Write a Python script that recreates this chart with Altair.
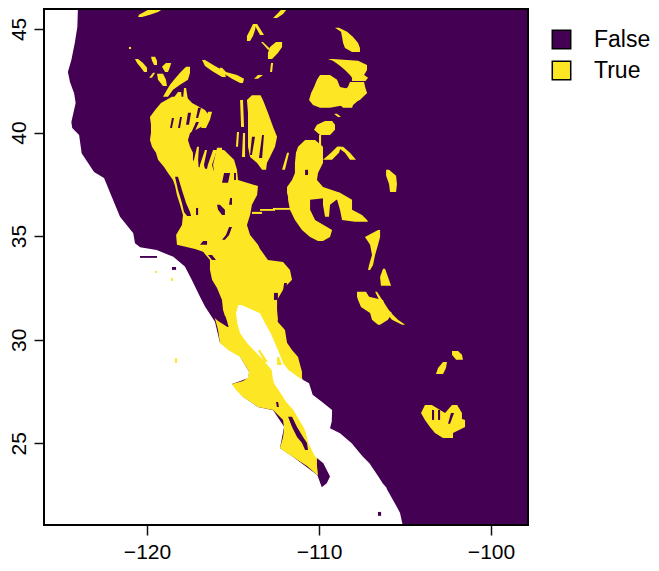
import altair as alt
import pandas as pd

X_DOMAIN = [-125.99, -97.85]
Y_DOMAIN = [21.06, 45.96]
X_TICKS = [-120, -110, -100]
Y_TICKS = [25, 30, 35, 40, 45]
CLASSES = ["False", "True"]
COLORS = ["#440154", "#FDE725"]

# each row: latitude, western longitude, eastern longitude
land = [(46.2,-124.01,-97.8),(45.1,-124.05,-97.8),(44.32,-124.2,-97.8),(43.5,-124.4,-97.8),(42.92,-124.6,-97.8),
 (42.44,-124.48,-97.8),(41.9,-124.24,-97.8),(41.43,-124.15,-97.8),(40.51,-124.4,-97.8),(40.22,-124.35,-97.8),
 (39.88,-123.95,-97.8),(39.0,-123.8,-97.8),(38.1,-123.08,-97.8),(37.8,-122.5,-97.8),(35.93,-121.57,-97.8),
 (35.14,-120.8,-97.8),(34.66,-120.7,-97.8),(34.46,-120.4,-97.8),(34.33,-119.44,-97.8),(34.0,-118.47,-97.8),
 (33.53,-117.8,-97.8),(32.89,-117.4,-97.8),(32.08,-116.92,-97.8),(31.6,-116.63,-97.8),(30.87,-116.05,-97.8),
 (29.85,-115.76,-97.8),(29.2,-114.6,-97.8),(28.45,-114.07,-97.8),(28.15,-114.1,-97.8),(27.87,-115.06,-97.8),
 (27.24,-114.4,-97.8),(26.76,-113.55,-97.8),(26.6,-112.67,-97.8),(25.8,-112.03,-97.8),(24.78,-112.27,-97.8),
 (24.34,-111.5,-97.8),(23.47,-110.1,-97.8),(22.88,-109.84,-97.8),(22.86,-106.1,-97.8),(21.93,-105.47,-97.8),
 (21.64,-105.29,-97.8),(21.0,-105.12,-97.8)]

main_body = [(41.72,-118.55,-117.73),(41.43,-119.19,-117.38),(41.09,-119.53,-116.63),(40.75,-119.83,-116.34),
 (40.37,-119.77,-116.63),(39.98,-119.77,-117.5),(39.64,-119.83,-117.62),(39.31,-119.71,-117.5),(39.02,-119.48,-117.33),
 (38.68,-119.36,-117.33),(38.34,-119.01,-117.03),(38.05,-118.78,-115.47),(37.71,-118.49,-114.71),(37.42,-118.37,-113.55),
 (36.99,-118.26,-113.6),(36.51,-118.08,-113.9),(36.02,-117.91,-114.01),(35.54,-117.97,-114.19),(35.06,-118.31,-114.01),
 (34.58,-118.26,-113.55),(34.38,-117.21,-113.43),(34.24,-116.74,-113.31),(33.85,-116.34,-112.97),(33.75,-116.34,-112.09),
 (33.37,-116.34,-111.69),(32.89,-116.22,-111.57),(32.5,-115.93,-112.03),(31.92,-115.64,-112.44),(31.44,-115.58,-112.44),
 (30.96,-115.4,-112.39)]
baja = [(31.15,-116.1,-112.44),(30.86,-115.99,-112.39),(30.47,-115.87,-111.98),(29.85,-115.76,-111.86),(29.51,-115.29,-111.57),
 (29.17,-114.59,-111.22),(28.78,-114.3,-111.1),(28.45,-114.07,-110.99),(28.16,-114.13,-110.99),(28.01,-114.42,-110.93),
 (27.87,-115.06,-110.64),(27.58,-114.83,-111.69),(27.24,-114.42,-111.57),(26.76,-113.55,-111.1),(26.61,-112.67,-110.93),
 (26.13,-112.09,-110.52),(25.74,-112.03,-110.41),(25.31,-112.09,-110.17),(24.78,-112.27,-110.17),(24.59,-111.98,-110.12),
 (24.34,-111.51,-110.12),(23.91,-110.7,-110.12),(23.48,-110.12,-110.06)]
top_strip = [(45.97,-119.83,-119.07),(45.82,-120.17,-119.36),(45.68,-120.47,-119.83),(45.58,-120.52,-120.29)]
dot_a = [(44.13,-121.05,-120.93),(44.03,-121.05,-120.93)]
blob_a = [(43.55,-120.7,-120.52),(43.36,-120.58,-120.23),(43.12,-120.35,-120.0),(42.92,-120.17,-120.0)]
blob_b = [(43.65,-119.77,-119.53),(43.46,-119.71,-119.42),(43.26,-119.59,-119.42)]
blob_c = [(43.36,-118.9,-118.6),(43.17,-119.13,-118.66),(42.92,-118.95,-118.78)]
blob_d = [(42.88,-119.65,-119.53),(42.64,-119.88,-119.71)]
blob_e = [(42.83,-119.42,-119.07),(42.54,-119.36,-118.9),(42.25,-119.07,-118.84)]
blob_f = [(43.17,-117.73,-117.5),(42.88,-118.08,-117.5),(42.54,-118.43,-117.62),(42.3,-118.66,-118.08),(42.06,-118.84,-118.49),(41.72,-119.07,-118.78)]
blob_g = [(42.15,-117.85,-117.73),(41.57,-117.91,-117.62)]
blob_h = [(41.96,-118.2,-118.02),(41.57,-118.55,-117.97)]
prong_a = [(41.0,-116.45,-116.22),(40.61,-116.63,-116.34),(40.22,-116.86,-116.57)]
long_a = [(43.5,-116.8,-116.63),(43.21,-116.63,-116.05),(42.97,-116.22,-115.52),(42.68,-115.64,-115.41)]
long_b = [(43.12,-115.76,-115.64),(42.92,-115.76,-115.41),(42.78,-115.41,-114.77),(42.59,-115.06,-114.36),(42.39,-114.59,-114.42)]
idaho_top = [(45.97,-112.15,-111.86),(45.72,-112.44,-112.09),(45.53,-112.67,-112.44)]
strand_a = [(45.24,-113.84,-113.66),(44.95,-114.01,-113.72),(44.66,-114.19,-113.84),(44.42,-114.19,-114.01)]
strand_b = [(45.24,-113.78,-113.6),(44.71,-113.43,-113.2)]
blob_i = [(44.37,-112.5,-112.15),(44.13,-112.85,-112.15),(43.84,-112.97,-112.39),(43.55,-112.97,-112.73)]
blob_j = [(44.37,-113.37,-113.26),(43.99,-112.97,-112.79)]
blob_k = [(43.36,-112.79,-112.67),(42.92,-112.85,-112.73)]
blob_l = [(42.78,-113.55,-113.26),(42.59,-113.78,-113.55)]
oval_a = [(45.05,-109.07,-108.84),(44.86,-108.72,-108.37),(44.61,-108.66,-108.02),(44.32,-108.6,-107.73),(44.08,-108.49,-107.62),(43.89,-108.08,-107.62)]
blob_m = [(43.55,-109.48,-109.19),(43.46,-109.19,-107.73),(43.26,-108.84,-107.21),(43.02,-108.49,-107.21),(42.78,-108.2,-107.38),(42.64,-108.08,-107.15),(42.49,-108.08,-107.3)]
big_left = [(42.78,-109.94,-109.36),(42.54,-110.12,-108.95),(42.2,-110.29,-108.78),(41.91,-110.46,-107.21),(41.57,-110.58,-107.62),(41.33,-110.35,-108.5),(41.19,-109.94,-109.36)]
big_right = [(42.44,-108.2,-107.38),(42.2,-108.32,-107.32),(41.91,-108.78,-107.21),(41.33,-108.78,-108.02),(41.19,-108.6,-108.08)]
blob_n = [(40.56,-109.65,-109.24),(40.37,-110.12,-109.07),(40.13,-110.29,-109.07),(39.88,-109.94,-109.36)]
thin_a = [(40.9,-109.13,-108.95),(40.75,-108.9,-108.72)]
stem = [(39.88,-110.0,-109.88),(39.31,-110.0,-109.88)]
nevada = [(41.8,-113.9,-113.4),(41.57,-114.19,-113.26),(40.95,-114.13,-112.97),(40.27,-114.13,-112.67),(39.79,-114.13,-112.44),(39.31,-114.13,-112.56),(38.82,-114.01,-112.85),(38.53,-113.6,-113.03),(38.2,-113.31,-113.08)]
side_a = [(41.57,-114.59,-114.42),(40.27,-114.53,-114.36)]
side_b = [(40.03,-114.77,-114.65),(39.31,-114.83,-114.71)]
side_c = [(39.98,-114.42,-114.3),(38.82,-114.48,-114.3)]
diag_a = [(39.02,-111.86,-111.74),(38.2,-112.15,-111.98)]
colorado = [(39.64,-110.81,-110.23),(39.31,-111.22,-109.77),(39.02,-111.34,-109.77),(38.53,-111.4,-109.77),(38.05,-111.4,-110.06),(37.71,-111.57,-110.12),(37.37,-111.86,-109.77),(37.09,-111.86,-108.78),(36.89,-111.8,-109.07),(36.75,-111.8,-110.52),(36.27,-111.69,-110.52),(35.78,-111.4,-110.23),(35.3,-110.99,-109.24),(34.96,-110.52,-109.36),(34.77,-110.06,-109.77)]
col_mid = [(36.89,-109.77,-108.78),(36.51,-109.77,-109.36),(35.93,-109.65,-109.42)]
col_right = [(37.09,-109.36,-108.78),(36.75,-108.95,-108.08),(36.27,-108.78,-108.08),(36.02,-108.72,-107.5),(35.78,-108.66,-107.21),(35.69,-107.91,-107.15)]
arm_a = [(39.31,-108.95,-108.72),(39.02,-109.3,-108.84),(38.68,-109.77,-109.24)]
arm_b = [(39.31,-108.95,-108.6),(39.02,-108.49,-108.2),(38.68,-108.2,-107.85)]
wire_a = [(36.17,-113.9,-113.31),(36.07,-113.9,-113.31)]
wire_b = [(36.31,-113.43,-112.56),(36.22,-113.43,-112.56)]
wire_c = [(36.36,-112.68,-111.69),(36.27,-112.68,-111.69)]
oval_b = [(38.2,-106.1,-105.93),(37.91,-106.1,-105.52),(37.52,-105.93,-105.47),(37.13,-105.87,-105.52)]
strip_a = [(35.3,-106.57,-106.45),(34.96,-107.33,-106.45),(34.58,-107.03,-106.57),(34.09,-106.92,-106.74),(33.61,-107.09,-106.86),(33.37,-107.15,-107.03)]
blob_o = [(33.42,-106.28,-106.16),(33.03,-106.45,-105.99),(32.6,-106.4,-105.81)]
blob_p = [(32.31,-107.79,-107.27),(32.07,-107.79,-107.09),(31.92,-107.73,-106.28),(31.58,-107.56,-106.16),(31.29,-107.03,-105.76),(30.96,-106.92,-105.99),(30.72,-106.57,-106.45)]
tail_a = [(32.31,-106.74,-106.63),(31.34,-106.16,-105.87),(30.96,-105.76,-105.41),(30.72,-105.17,-104.99)]
mex_a = [(29.46,-102.27,-101.92),(29.27,-102.27,-101.69),(29.03,-102.03,-101.63)]
mex_b = [(28.93,-102.79,-102.56),(28.64,-103.08,-102.62),(28.35,-103.2,-102.79)]
mex_c = [(26.85,-103.84,-103.44),(26.47,-104.07,-102.67),(26.13,-103.84,-101.51),(25.79,-103.55,-101.51),(25.5,-103.26,-102.21),(25.26,-102.79,-102.21)]
mex_d = [(26.85,-102.27,-101.97),(26.47,-102.67,-101.69),(26.13,-102.67,-101.69)]
finger_a = [(39.31,-117.09,-116.98),(38.68,-117.27,-117.03),(38.1,-117.27,-116.98)]
finger_b = [(39.16,-116.63,-116.51),(38.44,-116.92,-116.69),(38.05,-116.98,-116.57)]
finger_c = [(39.16,-116.16,-115.93),(38.44,-116.46,-116.22),(38.05,-116.57,-116.1)]
finger_d = [(39.26,-115.93,-115.64),(38.44,-116.16,-115.64),(38.05,-116.1,-115.52)]
block_a = [(39.16,-115.76,-115.52),(38.68,-115.76,-114.94),(38.2,-115.64,-114.77),(37.71,-115.47,-114.71)]
isle_a = [(33.32,-119.53,-119.42),(33.22,-119.53,-119.42)]
isle_b = [(32.98,-118.6,-118.49),(32.84,-118.6,-118.49)]
isle_c = [(29.12,-118.37,-118.26),(28.88,-118.37,-118.26)]

gulf = [(31.68,-114.69,-114.5),(31.28,-114.83,-113.43),(30.8,-114.75,-113.14),(30.31,-114.59,-112.81),(29.83,-114.17,-112.56),
 (29.35,-113.62,-112.31),(28.87,-113.08,-112.08),(28.54,-112.75,-111.78),(28.14,-112.69,-111.1),(27.9,-112.62,-110.58),
 (27.34,-112.17,-110.37),(27.01,-111.92,-109.84),(26.61,-111.49,-109.24),(26.05,-111.1,-109.26),(25.73,-110.87,-109.36),
 (25.49,-110.76,-108.78),(25.0,-110.62,-108.1),(24.52,-110.33,-107.62),(24.36,-110.23,-107.46),(24.04,-109.75,-107.07),
 (23.4,-109.36,-106.55),(23.08,-109.55,-106.3),(22.88,-109.84,-106.1),(22.82,-109.84,-106.05)]

gulf_isle_a = [(29.51,-113.55,-113.43),(28.93,-113.2,-112.97)]
gulf_isle_b = [(29.17,-112.44,-112.33),(28.78,-112.44,-112.15)]

wedge_a = [(31.15,-116.2,-115.45),(30.91,-115.87,-115.35),(30.62,-115.32,-115.26)]
wedge_b = [(26.28,-111.8,-111.57),(25.79,-111.57,-111.28),(25.31,-111.28,-110.93),(25.02,-110.99,-110.7),(24.68,-110.81,-110.64)]
fleck_a = [(27.0,-112.5,-112.38),(26.76,-112.45,-112.33)]
stripe = [(37.86,-118.37,-118.2),(37.23,-118.2,-117.97),(36.6,-117.97,-117.73),(36.17,-117.85,-117.5),(35.97,-117.67,-117.44)]
hole_b = [(36.36,-117.15,-117.03),(36.02,-117.15,-117.03)]
hole_c = [(36.51,-115.93,-115.76),(36.27,-115.87,-115.47),(36.02,-115.64,-115.47)]
hole_d = [(36.84,-115.17,-115.06),(36.51,-115.23,-115.06)]
hole_e = [(35.44,-115.23,-115.06),(35.06,-115.41,-115.23),(34.82,-115.64,-115.47)]
hole_f = [(34.77,-116.74,-116.51),(34.58,-116.92,-116.51)]
hole_g = [(34.09,-116.46,-116.22),(33.85,-116.22,-115.99)]
hole_h = [(38.05,-115.52,-115.17),(37.57,-115.64,-115.29)]
hole_i = [(38.05,-114.94,-114.83),(37.71,-114.94,-114.83)]
hole_j = [(32.74,-112.03,-111.86),(32.36,-112.09,-111.92)]
hole_k = [(32.26,-112.62,-112.39),(31.92,-112.62,-112.39)]
slit_a = [(40.95,-117.62,-117.44),(40.37,-117.73,-117.56)]
slit_b = [(40.75,-118.08,-117.97),(40.22,-118.2,-118.08)]
slit_c = [(40.51,-117.15,-116.98),(39.98,-117.44,-117.27)]
slit_d = [(40.7,-118.55,-118.43),(40.22,-118.66,-118.55)]
slit_e = [(41.19,-117.03,-116.86),(40.7,-117.15,-117.03)]
slit_f = [(39.88,-113.31,-113.2),(38.77,-113.49,-113.31)]
slit_g = [(39.79,-113.9,-113.72),(38.92,-114.01,-113.9)]
slit_h = [(38.2,-110.81,-110.64),(37.95,-110.81,-110.64)]
slit_i = [(26.61,-103.43,-103.31),(26.13,-103.43,-103.31)]
slit_j = [(26.61,-103.08,-102.96),(26.13,-103.08,-102.96)]
slit_k = [(26.47,-102.33,-102.15),(25.94,-102.5,-102.38)]
isle_d = [(34.04,-120.41,-119.42),(33.95,-120.41,-119.42)]
isle_e = [(33.51,-118.55,-118.31),(33.37,-118.55,-118.31)]
isle_f = [(21.69,-106.57,-106.39),(21.5,-106.57,-106.39)]

YELLOW = [main_body, baja, top_strip, dot_a, blob_a, blob_b, blob_c, blob_d, blob_e, blob_f, blob_g, blob_h, prong_a, long_a, long_b,
          idaho_top, strand_a, strand_b, blob_i, blob_j, blob_k, blob_l, oval_a, blob_m, big_left, big_right, blob_n, thin_a,
          stem, nevada, side_a, side_b, side_c, diag_a, colorado, col_mid, col_right, arm_a, arm_b, wire_a, wire_b, wire_c,
          oval_b, strip_a, blob_o, blob_p, tail_a, mex_a, mex_b, mex_c, mex_d, finger_a, finger_b, finger_c, finger_d, block_a,
          isle_a, isle_b, isle_c]
ISLES = [gulf_isle_a, gulf_isle_b]
HOLES = [wedge_a, wedge_b, fleck_a, stripe, hole_b, hole_c, hole_d, hole_e, hole_f, hole_g, hole_h, hole_i, hole_j, hole_k, slit_a, slit_b,
         slit_c, slit_d, slit_e, slit_f, slit_g, slit_h, slit_i, slit_j, slit_k, isle_d, isle_e, isle_f]


def table(shapes, cls):
    rows = []
    for i, shape in enumerate(shapes):
        for lat, west, east in shape:
            rows.append({"lat": lat, "west": west, "east": east, "shape": i, "cls": cls})
    return pd.DataFrame(rows)


x_scale = alt.Scale(domain=X_DOMAIN, nice=False, zero=False)
y_scale = alt.Scale(domain=Y_DOMAIN, nice=False, zero=False)
color_scale = alt.Scale(domain=CLASSES, range=COLORS)

x_axis = alt.Axis(values=X_TICKS, title=None, grid=False, domain=False, tickSize=10, tickWidth=1.5, tickColor="#111",
                  labelFontSize=21, labelFont="Liberation Sans", labelColor="black", labelPadding=6, labelFlush=False)
y_axis = alt.Axis(values=Y_TICKS, title=None, grid=False, domain=False, tickSize=10, tickWidth=1.5, tickColor="#111",
                  labelFontSize=21, labelFont="Liberation Sans", labelColor="black", labelAngle=270, labelPadding=5,
                  labelFlush=False)
legend = alt.Legend(title=None, orient="none", legendX=506, legendY=19, symbolType="square", symbolSize=340,
                    symbolStrokeColor="black", symbolStrokeWidth=1.5, labelFontSize=23, labelFont="Liberation Sans",
                    labelColor="black", labelOffset=21, rowPadding=6, padding=0)


def areas(df, color):
    return alt.Chart(df).mark_area(orient="horizontal", clip=True, opacity=1, interpolate="linear").encode(
        y=alt.Y("lat:Q", scale=y_scale, axis=y_axis),
        x=alt.X("west:Q", scale=x_scale, axis=x_axis),
        x2="east:Q",
        detail="shape:N",
        color=color,
    )


cls_color = alt.Color("cls:N", scale=color_scale, legend=legend)
frame = alt.Chart(pd.DataFrame({"x": [X_DOMAIN[0]], "x1": [X_DOMAIN[1]], "y": [Y_DOMAIN[0]], "y1": [Y_DOMAIN[1]]})).mark_rect(
    fillOpacity=0, stroke="black", strokeWidth=2).encode(
    x=alt.X("x:Q", scale=x_scale, axis=x_axis), x2="x1:Q", y=alt.Y("y:Q", scale=y_scale, axis=y_axis), y2="y1:Q")

chart = alt.layer(
    areas(table([land], "False"), cls_color),
    areas(table(YELLOW, "True"), cls_color),
    areas(table([gulf], "sea"), alt.value("white")),
    areas(table(ISLES, "True"), cls_color),
    areas(table(HOLES, "False"), cls_color),
    frame,
).properties(
    width=484, height=516,
    autosize=alt.AutoSizeParams(type="none"),
    padding={"left": 36, "top": 1, "right": 123, "bottom": 38},
).configure_view(stroke=None)

chart.save("out.html", embed_options={"renderer": "svg", "actions": False})
